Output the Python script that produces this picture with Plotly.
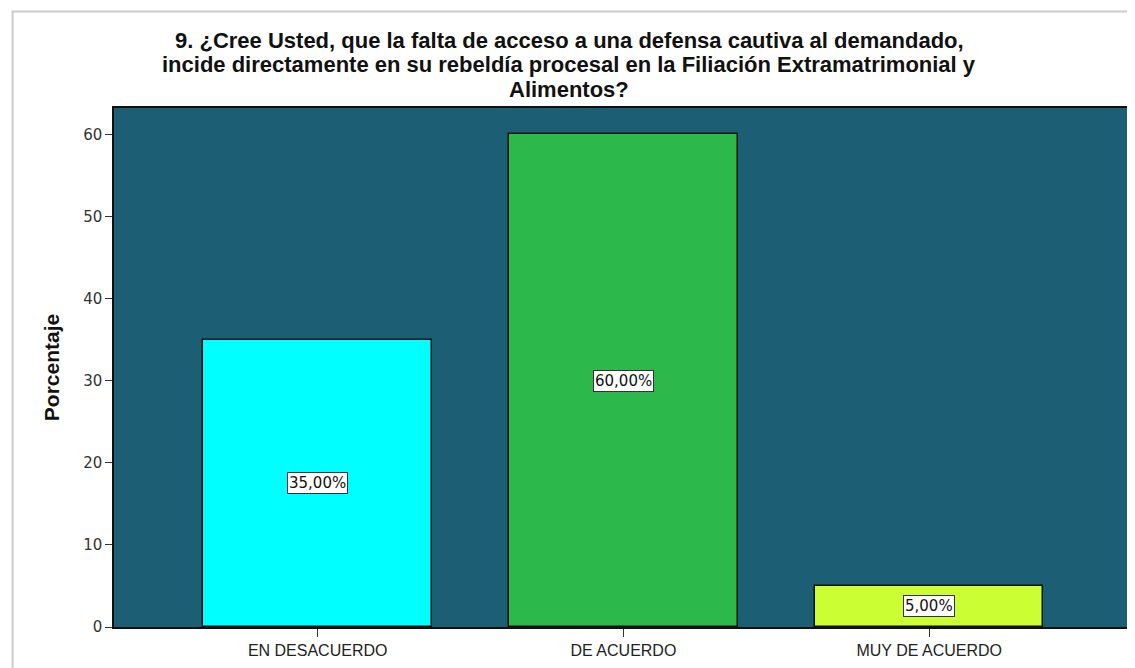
import plotly.graph_objects as go

# Datos
categorias = ["EN DESACUERDO", "DE ACUERDO", "MUY DE ACUERDO"]
porcentajes = [35.0, 60.0, 5.0]
colores = ["#00FFFF", "#2DB84B", "#CCFF33"]
etiquetas = ["35,00%", "60,00%", "5,00%"]
y_ticks = [0, 10, 20, 30, 40, 50, 60]

titulo = [
    "9. ¿Cree Usted, que la falta de acceso a una defensa cautiva al demandado,",
    "incide directamente en su rebeldía procesal en la Filiación Extramatrimonial y",
    "Alimentos?",
]

fig = go.Figure()
fig.add_trace(
    go.Bar(
        x=categorias,
        y=porcentajes,
        width=0.747,
        marker=dict(color=colores, line=dict(color="#111111", width=1.5)),
        hoverinfo="x+y",
    )
)

# Etiquetas en el centro de cada barra
for cat, val, lab in zip(categorias, porcentajes, etiquetas):
    fig.add_annotation(
        x=cat,
        y=val / 2,
        text=lab,
        showarrow=False,
        font=dict(family="DejaVu Sans, Verdana", size=15, color="#111111"),
        bgcolor="white",
        bordercolor="#333333",
        borderwidth=1,
        borderpad=1,
    )

# Titulo en tres lineas (interlineado ajustado)
for linea, ypos in zip(titulo, [1.131, 1.083, 1.035]):
    fig.add_annotation(
        xref="paper", yref="paper",
        x=0.449, y=ypos,
        xanchor="center", yanchor="middle",
        text="<b>" + linea + "</b>",
        showarrow=False,
        font=dict(family="Liberation Sans, Arial", size=22, color="#111111"),
    )

# Marco gris claro alrededor de la figura
fig.add_shape(
    type="rect", xref="paper", yref="paper",
    x0=-0.1, x1=1.05, y0=-0.2, y1=1.186,
    line=dict(color="#cccccc", width=2), fillcolor="rgba(0,0,0,0)", layer="below",
)

fig.update_layout(
    width=1129,
    height=661,
    margin=dict(l=106, r=7, t=100, b=42),
    paper_bgcolor="white",
    plot_bgcolor="#1c5e74",
    showlegend=False,
    bargap=0,
)

fig.update_xaxes(
    range=[-0.666, 2.65],
    showline=True,
    linecolor="#111111",
    linewidth=1.5,
    mirror=True,
    ticks="outside",
    ticklen=8,
    tickcolor="#333333",
    tickfont=dict(family="Liberation Sans, Arial", size=16, color="#222222"),
    showgrid=False,
)

fig.update_yaxes(
    range=[0, 63.2],
    tickvals=y_ticks,
    showline=True,
    linecolor="#111111",
    linewidth=1.5,
    mirror=True,
    ticks="outside",
    ticklen=7,
    tickcolor="#333333",
    tickfont=dict(family="DejaVu Sans, Verdana", size=15, color="#333333"),
    showgrid=False,
    zeroline=False,
    title=dict(
        text="<b>Porcentaje</b>",
        font=dict(family="Liberation Sans, Arial", size=21, color="#111111"),
        standoff=18,
    ),
)

fig.write_html("out.html")
